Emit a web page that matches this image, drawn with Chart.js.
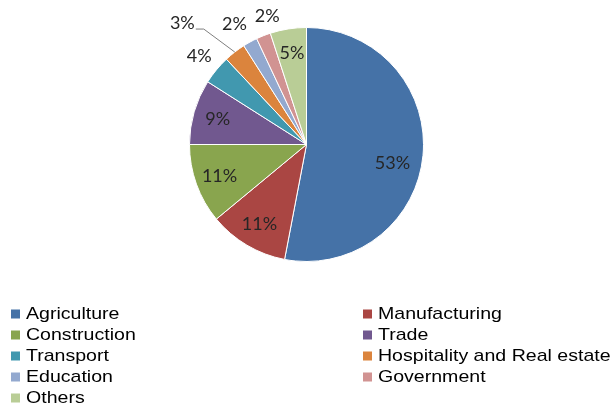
<!DOCTYPE html>
<html>
<head>
<meta charset="utf-8">
<script src="https://cdn.jsdelivr.net/npm/chart.js@4"></script>
<style>
  html, body { margin: 0; padding: 0; background: #fff; }
  #wrap { width: 616px; height: 404px; }
</style>
</head>
<body>
<div id="wrap"><canvas id="pieChart" width="616" height="404"></canvas></div>
<script>
const sectors = ["Agriculture", "Manufacturing", "Construction", "Trade", "Transport",
  "Hospitality and Real estate", "Education", "Government", "Others"];
const shares = [53, 11, 11, 9, 4, 3, 2, 2, 5];
const sectorColors = ["#4572A7", "#AA4643", "#89A54E", "#71588F", "#4198AF",
  "#DB843D", "#93A9CF", "#D19392", "#B9CD96"];

// percent labels: inside for big slices, outside for small, one with a leader line
const sliceLabels = {
  id: "sliceLabels",
  afterDatasetsDraw(chart, args, opts) {
    const ctx = chart.ctx;
    const arcs = chart.getDatasetMeta(0).data;
    ctx.save();
    ctx.font = "18px Lato";
    ctx.fillStyle = "#262626";
    arcs.forEach((arc, i) => {
      const p = arc.getProps(["x", "y", "startAngle", "endAngle", "outerRadius"], true);
      const mid = (p.startAngle + p.endAngle) / 2;
      const txt = shares[i] + "%";
      if (i === opts.callout.index) {
        const ax = p.x + Math.cos(mid) * p.outerRadius;
        const ay = p.y + Math.sin(mid) * p.outerRadius;
        const ex = ax + opts.callout.dx, ey = ay + opts.callout.dy;
        ctx.strokeStyle = "#7f7f7f";
        ctx.lineWidth = 1;
        ctx.beginPath();
        ctx.moveTo(ax, ay);
        ctx.lineTo(ex, ey);
        ctx.lineTo(ex - opts.callout.tail, ey);
        ctx.stroke();
        ctx.textAlign = "right";
        ctx.textBaseline = "alphabetic";
        ctx.fillText(txt, ex - opts.callout.tail - 1, ey);
        return;
      }
      const r = shares[i] >= 5 ? p.outerRadius * 0.79 : p.outerRadius * 1.19;
      const n = opts.nudge[i] || [0, 0];
      ctx.textAlign = "center";
      ctx.textBaseline = "middle";
      ctx.fillText(txt, p.x + Math.cos(mid) * r + n[0], p.y + Math.sin(mid) * r + n[1]);
    });
    ctx.restore();
  }
};

// two-column legend under the pie
const columnLegend = {
  id: "columnLegend",
  afterDraw(chart, args, opts) {
    const ctx = chart.ctx;
    ctx.save();
    ctx.font = "17px 'Liberation Sans', Arial";
    ctx.textBaseline = "alphabetic";
    ctx.textAlign = "left";
    sectors.forEach((name, i) => {
      const col = i % 2, row = Math.floor(i / 2);
      const x = opts.cols[col];
      const y = opts.top + row * opts.rowGap;
      ctx.fillStyle = sectorColors[i];
      ctx.fillRect(x, y - 9, 9, 9);
      ctx.fillStyle = "#000";
      ctx.save();
      ctx.translate(x + 15, y);
      ctx.scale(1.15, 1);
      ctx.fillText(name, 0, 0);
      ctx.restore();
    });
    ctx.restore();
  }
};

new Chart(document.getElementById("pieChart"), {
  type: "pie",
  data: {
    labels: sectors,
    datasets: [{
      data: shares,
      backgroundColor: sectorColors,
      borderColor: "#ffffff",
      borderWidth: 1
    }]
  },
  options: {
    responsive: false,
    animation: false,
    layout: { padding: { left: 189, right: 192, top: 27, bottom: 142 } },
    plugins: {
      legend: { display: false },
      tooltip: { enabled: false },
      sliceLabels: {
        callout: { index: 5, dx: -31, dy: -23, tail: 8 },
        nudge: { 0: [-6, 10], 6: [-5, 2], 7: [12, 1] }
      },
      columnLegend: { cols: [11, 363], top: 318.5, rowGap: 21 }
    }
  },
  plugins: [sliceLabels, columnLegend]
});
</script>
</body>
</html>
